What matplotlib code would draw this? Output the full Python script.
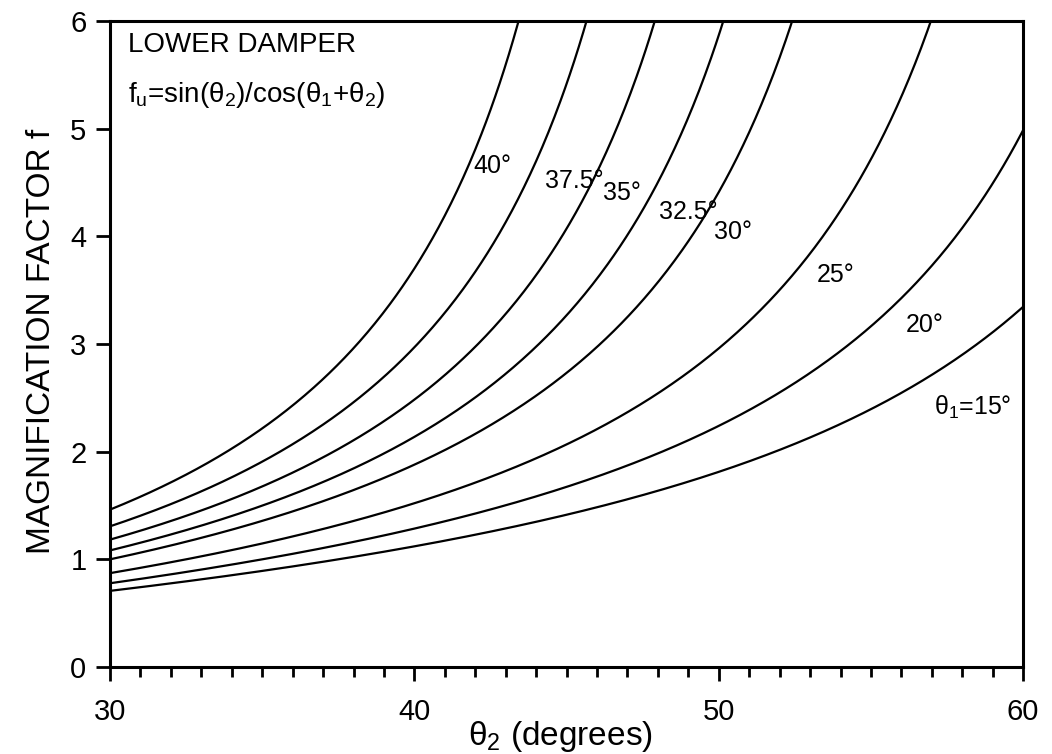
import numpy as np
import matplotlib
matplotlib.use("Agg")
from matplotlib import pyplot as plt
from matplotlib.ticker import MultipleLocator

plt.rcParams['font.family'] = ['Liberation Sans', 'DejaVu Sans']
plt.rcParams['mathtext.fontset'] = 'custom'
plt.rcParams['mathtext.rm'] = 'Liberation Sans'
plt.rcParams['mathtext.it'] = 'Liberation Sans'

# upper-angle values of each curve
theta1 = [15, 20, 25, 30, 32.5, 35, 37.5, 40]
curve_labels = ['θ$_1$=15°', '20°', '25°', '30°', '32.5°', '35°', '37.5°', '40°']
label_x = [58.33, 56.78, 53.83, 50.47, 48.99, 46.83, 45.25, 42.55]
label_y = [2.41, 3.18, 3.64, 4.04, 4.23, 4.40, 4.51, 4.65]

# lower-angle samples (degrees) along the x axis
theta2 = np.linspace(30, 60, 601)

fig = plt.figure(figsize=(10.52, 7.54), dpi=100)
ax = fig.add_axes([0.1046, 0.1154, 0.868, 0.8567])

for t1 in theta1:
    # f_u = sin(theta2)/cos(theta1+theta2), as printed on the chart
    f = np.sin(np.radians(theta2)) / np.cos(np.radians(t1 + theta2))
    f = np.where((f < 0) | (f > 7), np.nan, f)
    ax.plot(theta2, f, color='black', lw=1.6)

for lab, lx, ly in zip(curve_labels, label_x, label_y):
    ax.text(lx, ly, lab, fontsize=18, ha='center', va='center')

ax.text(30.6, 5.78, 'LOWER DAMPER', fontsize=20, va='center')
ax.text(30.6, 5.31, r'f$_{\rm u}$=sin(θ$_2$)/cos(θ$_1$+θ$_2$)',
        fontsize=20, va='center')

ax.set_xlim(30, 60)
ax.set_ylim(0, 6)
ax.xaxis.set_major_locator(MultipleLocator(10))
ax.xaxis.set_minor_locator(MultipleLocator(1))
ax.yaxis.set_major_locator(MultipleLocator(1))
ax.tick_params(axis='both', which='major', direction='out', length=10, width=2,
               labelsize=21, top=False, right=False)
ax.tick_params(axis='x', which='minor', direction='out', length=7, width=2, top=False)
ax.tick_params(axis='x', which='major', pad=12)
ax.tick_params(axis='y', which='major', pad=7)
for s in ax.spines.values():
    s.set_linewidth(2.2)

fig.text(560 / 1052, 1 - 737 / 754, 'θ$_2$ (degrees)', fontsize=24,
         ha='center', va='center')
fig.text(42 / 1052, 1 - 341 / 754, 'MAGNIFICATION FACTOR f', fontsize=24,
         ha='center', va='center', rotation=90)

plt.savefig('out.png', dpi=100)
